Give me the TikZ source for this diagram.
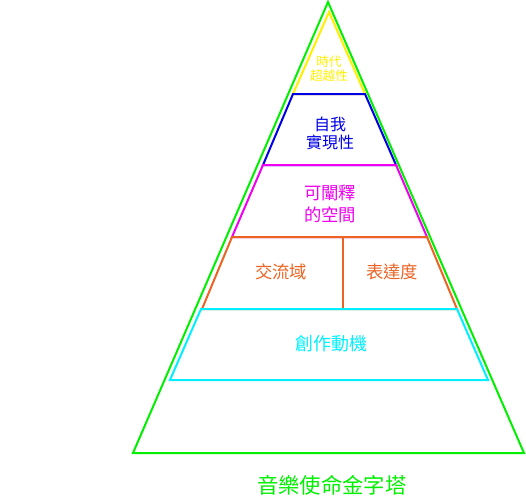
\documentclass[tikz,border=0pt]{standalone}
\usepackage{fontspec}
\newfontfamily\cjk{Noto Sans CJK TC}
\definecolor{cgreen}{RGB}{0,240,0}
\definecolor{cyellow}{RGB}{255,240,0}
\definecolor{cblue}{RGB}{0,0,230}
\definecolor{cmag}{RGB}{240,0,240}
\definecolor{corange}{RGB}{235,100,35}
\definecolor{ccyan}{RGB}{0,240,255}
\tikzset{
  lvl/.style={line width=1.5pt, line join=miter},
  lab/.style={font=\cjk, align=center, inner sep=0pt},
}
\begin{document}
\begin{tikzpicture}[x=0.75pt,y=-0.75pt]
\useasboundingbox (0,0) rectangle (526,496);
% outer triangle
\draw[lvl,cgreen] (328,2) -- (524,453) -- (133,453) -- cycle;
% yellow
\draw[lvl,cyellow] (329,12) -- (365,94) -- (293,94) -- cycle;
% blue
\draw[lvl,cblue] (293,94) -- (365,94) -- (396,165) -- (263,165) -- cycle;
% magenta
\draw[lvl,cmag] (263,165) -- (396,165) -- (427,237) -- (232,237) -- cycle;
% orange
\draw[lvl,corange] (232,237) -- (427,237) -- (457,309) -- (202,309) -- cycle;
\draw[lvl,corange] (343,237) -- (343,309);
% cyan
\draw[lvl,ccyan] (201,309) -- (457,309) -- (488,380) -- (170,380) -- cycle;
% labels
\node[lab,cyellow,font=\cjk\fontsize{9.5}{10.5}\selectfont] (t1) at (329,69) {時代\\超越性};
\node[lab,cblue,font=\cjk\fontsize{12}{13.5}\selectfont] (t2) at (330,133) {自我\\實現性};
\node[lab,cmag,font=\cjk\fontsize{13}{16.5}\selectfont] (t3) at (330,204) {可闡釋\\的空間};
\node[lab,corange,font=\cjk\fontsize{13}{15}\selectfont] (t4) at (281,272) {交流域};
\node[lab,corange,font=\cjk\fontsize{13}{15}\selectfont] (t5) at (392,272) {表達度};
\node[lab,ccyan,font=\cjk\fontsize{13.5}{15}\selectfont] (t6) at (331,344) {創作動機};
\node[lab,cgreen,font=\cjk\fontsize{16}{18}\selectfont] (t7) at (332,485) {音樂使命金字塔};
\end{tikzpicture}
\end{document}
